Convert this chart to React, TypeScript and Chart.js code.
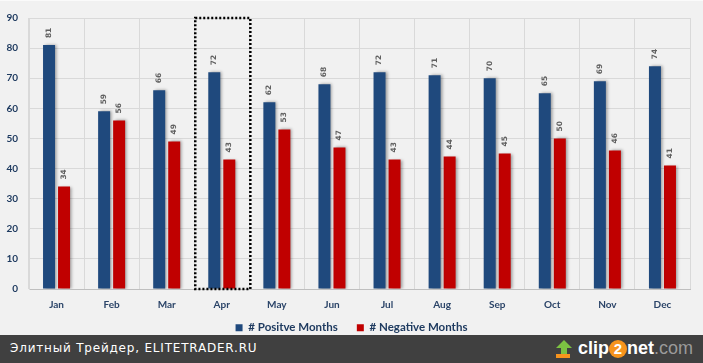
import React, { useEffect, useRef } from "react";
import { Chart, registerables } from "chart.js";

Chart.register(...registerables);

const months = ["Jan", "Feb", "Mar", "Apr", "May", "Jun", "Jul", "Aug", "Sep", "Oct", "Nov", "Dec"];
const positiveMonths = [81, 59, 66, 72, 62, 68, 72, 71, 70, 65, 69, 74];
const negativeMonths = [34, 56, 49, 43, 53, 47, 43, 44, 45, 50, 46, 41];
const yTicks = [0, 10, 20, 30, 40, 50, 60, 70, 80, 90];
const highlightMonth = "Apr";

const shadowPlugin = {
  id: "barShadow",
  beforeDatasetsDraw(chart: any) {
    const ctx = chart.ctx;
    ctx.save();
    ctx.shadowColor = "rgba(0,0,0,0.35)";
    ctx.shadowBlur = 3;
    ctx.shadowOffsetX = 2;
    ctx.shadowOffsetY = 0;
  },
  afterDatasetsDraw(chart: any) {
    chart.ctx.restore();
  },
};

const labelPlugin = {
  id: "valueLabels",
  afterDatasetsDraw(chart: any) {
    const ctx = chart.ctx;
    ctx.save();
    ctx.font = "bold 7.5px 'DejaVu Sans', sans-serif";
    ctx.fillStyle = "#606060";
    ctx.textAlign = "left";
    ctx.textBaseline = "middle";
    chart.data.datasets.forEach((ds: any, i: number) => {
      const meta = chart.getDatasetMeta(i);
      meta.data.forEach((bar: any, j: number) => {
        ctx.save();
        ctx.translate(bar.x, bar.y - 7);
        ctx.rotate(-Math.PI / 2);
        ctx.fillText(String(ds.data[j]), 0, 0);
        ctx.restore();
      });
    });
    ctx.restore();
  },
};

const highlightPlugin = {
  id: "highlightBox",
  afterDraw(chart: any) {
    const x = chart.scales.x;
    const area = chart.chartArea;
    const idx = months.indexOf(highlightMonth);
    const half = (x.getPixelForValue(1) - x.getPixelForValue(0)) / 2;
    const cx = x.getPixelForValue(idx);
    const ctx = chart.ctx;
    ctx.save();
    ctx.strokeStyle = "#000";
    ctx.lineWidth = 2.5;
    ctx.setLineDash([2, 2]);
    ctx.strokeRect(cx - half + 1, area.top, half * 2, area.bottom - area.top);
    ctx.restore();
  },
};

export default function App() {
  const ref = useRef<HTMLCanvasElement>(null);
  useEffect(() => {
    document.body.style.margin = "0";
    const chart = new Chart(ref.current!, {
      type: "bar",
      data: {
        labels: months,
        datasets: [
          {
            label: "# Positve Months",
            data: positiveMonths,
            backgroundColor: "#1F497D",
            categoryPercentage: 0.545,
            barPercentage: 0.8,
          },
          {
            label: "# Negative Months",
            data: negativeMonths,
            backgroundColor: "#C00000",
            categoryPercentage: 0.545,
            barPercentage: 0.8,
          },
        ],
      },
      options: {
        animation: false,
        responsive: false,
        maintainAspectRatio: false,
        layout: { padding: { top: 16, right: 0, left: 0, bottom: 0 } },
        scales: {
          x: {
            grid: { offset: true, color: "#d9d9d9", drawTicks: false },
            border: { color: "#bfbfbf" },
            ticks: {
              color: "#2B4468",
              font: { family: "Lato", weight: "bold", size: 10 },
              padding: 10,
            },
            afterFit(s: any) {
              s.height = 14;
              s._computeLabelArea = () => undefined;
            },
          },
          y: {
            min: 0,
            max: 90,
            afterBuildTicks(s: any) {
              s.ticks = yTicks.map((v) => ({ value: v }));
            },
            grid: { color: "#d9d9d9", drawTicks: false },
            border: { color: "#d9d9d9" },
            ticks: {
              color: "#1F3B60",
              font: { family: "Lato", weight: "bold", size: 10 },
              padding: 11,
            },
            afterFit(s: any) {
              s.width = 29;
            },
          },
          yRight: {
            type: "linear",
            position: "right",
            min: 0,
            max: 90,
            ticks: { display: false },
            grid: { display: false, drawOnChartArea: false },
            border: { display: false },
            afterFit(s: any) {
              s.width = 13;
            },
          },
        },
        plugins: {
          legend: {
            position: "bottom",
            maxHeight: 32,
            labels: {
              boxWidth: 7,
              boxHeight: 7,
              padding: 19,
              color: "#1F3B60",
              font: { family: "Lato", weight: "bold", size: 11.5 },
            },
          },
          tooltip: { enabled: false },
        },
      },
      plugins: [shadowPlugin, labelPlugin, highlightPlugin],
    } as any);
    return () => chart.destroy();
  }, []);

  return (
    <div style={{ width: 703, height: 363, position: "relative", overflow: "hidden", background: "#f0f0f0" }}>
      <div style={{ position: "absolute", left: 0, top: 0, width: 703, height: 335, background: "#f1f1f1", borderTop: "1px solid #fafafa", boxSizing: "border-box" }}>
        <canvas ref={ref} width={703} height={334} style={{ display: "block" }} />
      </div>
      <div
        style={{
          position: "absolute",
          left: 0,
          top: 335,
          width: 703,
          height: 28,
          background: "#404040",
          fontFamily: "'DejaVu Sans', sans-serif",
        }}
      >
        <span style={{ position: "absolute", left: 10, top: 6, color: "#ffffff", fontSize: 12, letterSpacing: 0.8 }}>
          Элитный Трейдер, ELITETRADER.RU
        </span>
        <div style={{ position: "absolute", right: 10, top: 3, display: "flex", alignItems: "center", fontFamily: "'Liberation Sans', Arial, sans-serif", fontWeight: "bold", fontSize: 18 }}>
          <svg width="20" height="20" viewBox="0 0 20 20" style={{ marginRight: 4 }}>
            <polygon points="10,1 18,9 13,9 13,15 7,15 7,9 2,9" fill="#7cc242" />
            <rect x="2" y="15" width="14" height="4" fill="#f7941d" />
          </svg>
          <span style={{ color: "#ffffff" }}>clip</span>
          <span style={{ background: "#f7941d", color: "#fff", borderRadius: 10, width: 18, height: 18, display: "inline-flex", alignItems: "center", justifyContent: "center", fontSize: 15 }}>2</span>
          <span style={{ color: "#ffffff" }}>net</span>
          <span style={{ color: "#9a9a9a", fontWeight: "normal" }}>.com</span>
        </div>
      </div>
    </div>
  );
}
